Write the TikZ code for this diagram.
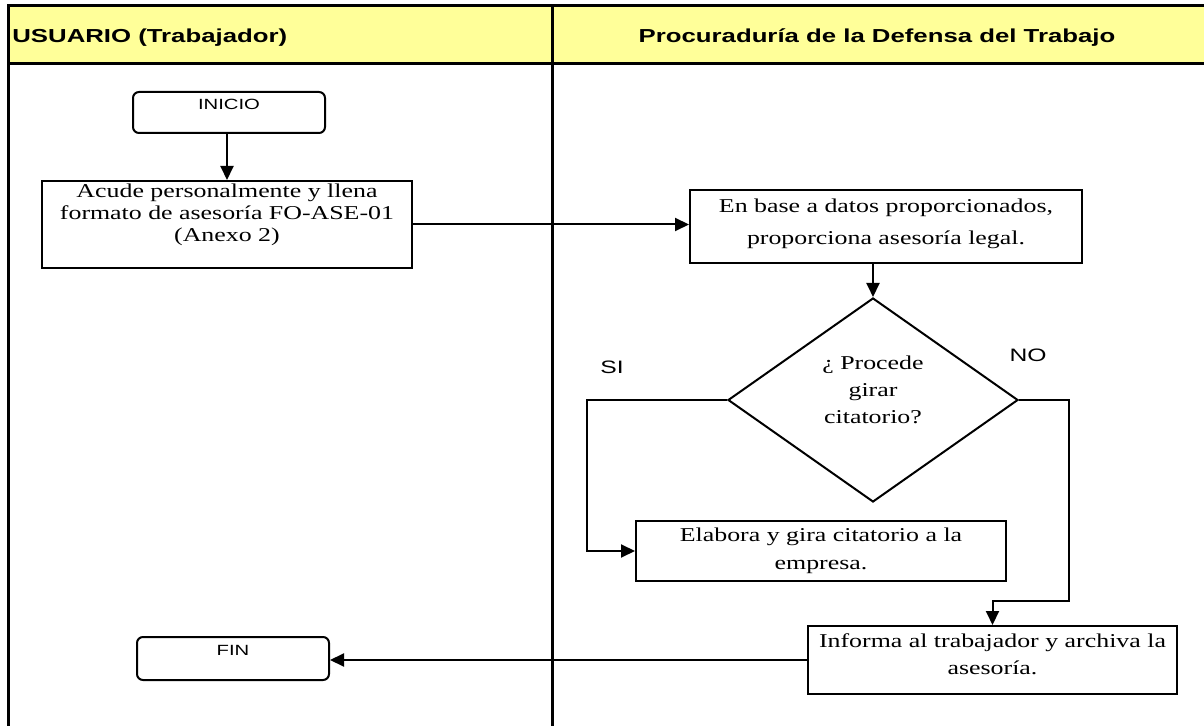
\documentclass[tikz,border=0pt]{standalone}
\usepackage{fontspec}
\setmainfont{Liberation Serif}[FakeStretch=1.32]
\setsansfont{Liberation Sans}[FakeStretch=1.37]
\usetikzlibrary{shapes.geometric,arrows.meta}
\definecolor{hdryellow}{HTML}{FFFF99}
\begin{document}
\begin{tikzpicture}[x=0.5pt,y=-0.5pt,
  frame/.style={line width=1.5pt},
  box/.style={draw,line width=1pt,inner sep=0pt},
  endbox/.style={box,rounded corners=3pt,minimum width=96pt},
  conn/.style={line width=1pt,-{Triangle[length=7pt,width=6.5pt]}},
  boxtxt/.style={font=\fontsize{9.8}{#1}\selectfont,align=center,inner sep=0pt},
  endtxt/.style={font=\sffamily\fontsize{7.4}{9}\selectfont,inner sep=0pt},
  hdr/.style={font=\sffamily\bfseries\fontsize{9.4}{11}\selectfont,inner sep=0pt},
  yesno/.style={font=\sffamily\fontsize{9}{11}\selectfont,inner sep=0pt}]
\useasboundingbox (0,0) rectangle (1204,726);
% lanes
\fill[hdryellow] (8,6) rectangle (1204,64);
\draw[frame] (1204,6)--(8,6)--(8,726) (8,64)--(1204,64) (552,6)--(552,726);
\node[hdr,anchor=west] (usuario) at (12,38) {USUARIO (Trabajador)};
\node[hdr] (procu) at (877,38) {Procuraduría de la Defensa del Trabajo};
% steps
\node[endbox,minimum height=20.5pt,label={[endtxt,yshift=4pt]center:INICIO}] (inicio) at (229,112.5) {};
\node[box,minimum width=185pt,minimum height=43.5pt,
  label={[boxtxt=11,yshift=4.75pt]center:{Acude personalmente y llena\\formato de asesoría FO-ASE-01\\(Anexo 2)}}] (acude) at (227,224.5) {};
\node[box,minimum width=196pt,minimum height=36.5pt,
  label={[boxtxt=16,yshift=1.25pt]center:{En base a datos proporcionados,\\proporciona asesoría legal.}}] (enbase) at (886,226.5) {};
\node[box,diamond,minimum width=145pt,minimum height=102pt,
  label={[boxtxt=13.5,yshift=5pt]center:{¿ Procede\\girar\\citatorio?}}] (dec) at (873,400) {};
\node[yesno] (si) at (612,367) {SI};
\node[yesno] (no) at (1028,355) {NO};
\node[box,minimum width=185pt,minimum height=30pt,
  label={[boxtxt=14,yshift=0pt]center:{Elabora y gira citatorio a la\\empresa.}}] (elabora) at (821,551) {};
\node[box,minimum width=184.5pt,minimum height=34pt,
  label={[boxtxt=13.5,yshift=2.75pt]center:{Informa al trabajador y archiva la\\asesoría.}}] (informa) at (992.5,660) {};
\node[endbox,minimum height=21.5pt,label={[endtxt,yshift=4pt]center:FIN}] (fin) at (233,658.5) {};
\coordinate (sibend) at (587,400);
\coordinate (nobend) at (1069,601);
% flow
\draw[conn] (acude.north |- inicio.south) -- (acude.north);
\draw[conn] (acude.east) -- (acude.east -| enbase.west);
\draw[conn] (dec.north |- enbase.south) -- (dec.north);
\draw[conn] (dec.west) -- (sibend) |- (elabora.west);
\draw[conn] (dec.east) -| (nobend) -| (informa.north);
\draw[conn] (informa.west) -- (informa.west -| fin.east);
\end{tikzpicture}
\end{document}
